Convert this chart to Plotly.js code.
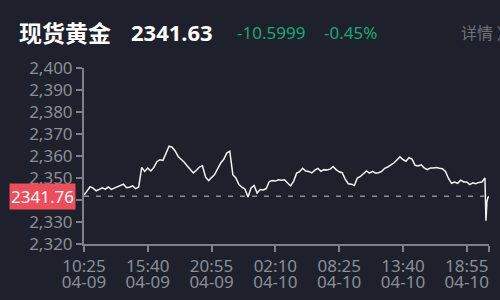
<!DOCTYPE html>
<html>
<head>
<meta charset="utf-8">
<script src="https://cdn.plot.ly/plotly-3.0.1.min.js"></script>
<style>
html,body{margin:0;padding:0;background:#1e212b;}
#chart{width:500px;height:300px;}
</style>
</head>
<body>
<div id="chart"></div>
<script>
// ---- data ----
const times = [
'2024-04-09 10:25','2024-04-09 10:40','2024-04-09 10:55','2024-04-09 11:10','2024-04-09 11:25','2024-04-09 11:40','2024-04-09 11:55',
'2024-04-09 12:10','2024-04-09 12:25','2024-04-09 12:40','2024-04-09 12:55','2024-04-09 13:10','2024-04-09 13:25','2024-04-09 13:40',
'2024-04-09 13:55','2024-04-09 14:10','2024-04-09 14:25','2024-04-09 14:40','2024-04-09 14:55','2024-04-09 15:10','2024-04-09 15:25',
'2024-04-09 15:40','2024-04-09 15:55','2024-04-09 16:10','2024-04-09 16:25','2024-04-09 16:40','2024-04-09 16:55','2024-04-09 17:10',
'2024-04-09 17:25','2024-04-09 17:40','2024-04-09 17:55','2024-04-09 18:10','2024-04-09 18:25','2024-04-09 18:40','2024-04-09 18:55',
'2024-04-09 19:10','2024-04-09 19:25','2024-04-09 19:40','2024-04-09 19:55','2024-04-09 20:10','2024-04-09 20:25','2024-04-09 20:40',
'2024-04-09 20:55','2024-04-09 21:10','2024-04-09 21:25','2024-04-09 21:40','2024-04-09 21:55','2024-04-09 22:10','2024-04-09 22:25',
'2024-04-09 22:40','2024-04-09 22:55','2024-04-09 23:10','2024-04-09 23:25','2024-04-09 23:40','2024-04-09 23:55',
'2024-04-10 00:10','2024-04-10 00:25','2024-04-10 00:40','2024-04-10 00:55','2024-04-10 01:10','2024-04-10 01:25','2024-04-10 01:40',
'2024-04-10 01:55','2024-04-10 02:10','2024-04-10 02:25','2024-04-10 02:40','2024-04-10 02:55','2024-04-10 03:10','2024-04-10 03:25',
'2024-04-10 03:40','2024-04-10 03:55','2024-04-10 04:10','2024-04-10 04:25','2024-04-10 04:40','2024-04-10 04:55',
'2024-04-10 06:10','2024-04-10 06:25','2024-04-10 06:40','2024-04-10 06:55','2024-04-10 07:10','2024-04-10 07:25','2024-04-10 07:40',
'2024-04-10 07:55','2024-04-10 08:10','2024-04-10 08:25','2024-04-10 08:40','2024-04-10 08:55','2024-04-10 09:10','2024-04-10 09:25',
'2024-04-10 09:40','2024-04-10 09:55','2024-04-10 10:10','2024-04-10 10:25','2024-04-10 10:40','2024-04-10 10:55','2024-04-10 11:10',
'2024-04-10 11:25','2024-04-10 11:40','2024-04-10 11:55','2024-04-10 12:10','2024-04-10 12:25','2024-04-10 12:40','2024-04-10 12:55',
'2024-04-10 13:10','2024-04-10 13:25','2024-04-10 13:40','2024-04-10 13:55','2024-04-10 14:10','2024-04-10 14:25','2024-04-10 14:40',
'2024-04-10 14:55','2024-04-10 15:10','2024-04-10 15:25','2024-04-10 15:40','2024-04-10 15:55','2024-04-10 16:10','2024-04-10 16:25',
'2024-04-10 16:40','2024-04-10 16:55','2024-04-10 17:10','2024-04-10 17:25','2024-04-10 17:40','2024-04-10 17:55','2024-04-10 18:10',
'2024-04-10 18:25','2024-04-10 18:40','2024-04-10 18:55','2024-04-10 19:10','2024-04-10 19:25','2024-04-10 19:40','2024-04-10 19:55',
'2024-04-10 20:10','2024-04-10 20:25','2024-04-10 20:30','2024-04-10 20:35','2024-04-10 20:40','2024-04-10 20:45'
];
const prices = [
2342.2,2344.0,2346.0,2345.4,2344.2,2344.8,2345.5,
2344.9,2345.9,2344.8,2345.4,2346.2,2346.8,2347.2,
2345.6,2345.8,2346.4,2345.2,2345.9,2354.8,2353.0,
2354.5,2353.2,2354.8,2357.4,2358.3,2358.0,2361.5,
2364.5,2364.0,2362.3,2359.8,2358.6,2357.2,2355.5,
2354.0,2352.3,2353.5,2355.0,2355.6,2350.5,2348.8,
2350.2,2351.6,2354.2,2356.8,2358.5,2361.3,2362.2,
2351.5,2350.0,2347.0,2345.8,2344.9,2341.4,
2345.5,2346.6,2343.2,2344.8,2344.6,2345.2,2348.4,
2348.8,2348.6,2349.2,2349.0,2349.2,2347.8,2346.4,
2348.5,2352.2,2352.9,2354.4,2353.2,2353.0,
2352.3,2353.6,2354.4,2353.0,2353.8,2353.6,2354.0,
2355.2,2353.8,2352.8,2352.4,2349.5,2347.4,2347.2,
2346.6,2350.0,2350.7,2351.8,2353.2,2352.2,2353.0,
2352.2,2352.4,2353.0,2354.4,2355.0,2355.8,2356.8,
2358.2,2359.6,2358.4,2357.6,2359.2,2358.6,2355.8,
2355.5,2356.0,2354.6,2353.8,2354.5,2354.5,2354.8,
2354.4,2354.2,2353.0,2349.8,2347.6,2348.2,2347.6,
2349.0,2348.2,2348.2,2347.0,2347.8,2347.4,2348.0,
2348.2,2350.0,2330.6,2339.4,2341.2,2341.63
];
const prevClose = 2341.76;
const tickTimes = ['2024-04-09 10:25','2024-04-09 15:40','2024-04-09 20:55','2024-04-10 02:10','2024-04-10 08:25','2024-04-10 13:40','2024-04-10 18:55','2024-04-10 20:45'];
const tickClock = ['10:25','15:40','20:55','02:10','08:25','13:40','18:55',''];
const tickDay = ['04-09','04-09','04-09','04-10','04-10','04-10','04-10',''];
const yTicks = [2320,2330,2340,2350,2360,2370,2380,2390,2400];
const titleName = '现货黄金';
const lastPrice = '2341.63';
const change = '-10.5999';
const changePct = '-0.45%';

// ---- styles ----
const BG = '#1e212b';
const GRAY = '#8b8e98';
const AXIS = '#7d808a';
const GREEN = '#17a77b';
const FONT = 'Noto Sans, Noto Sans CJK SC, sans-serif';
const breaks = [{bounds: [5, 6], pattern: 'hour'}];
const xRange = [times[0], times[times.length - 1]];

const traces = [
  {x: times, y: prices, type: 'scatter', mode: 'lines', xaxis: 'x', yaxis: 'y',
   line: {color: '#f2f2f2', width: 1.5}, hoverinfo: 'skip'},
  {x: times, y: prices, type: 'scatter', mode: 'lines', xaxis: 'x2', yaxis: 'y',
   line: {color: 'rgba(0,0,0,0)', width: 0}, hoverinfo: 'skip', showlegend: false}
];

const axCommon = {
  type: 'date', range: xRange, rangebreaks: breaks,
  tickmode: 'array', tickvals: tickTimes, showgrid: false, zeroline: false,
  tickfont: {family: FONT, size: 17, color: GRAY}, fixedrange: true
};

const layout = {
  width: 500, height: 300,
  paper_bgcolor: BG, plot_bgcolor: BG,
  margin: {l: 84, r: 11, t: 68, b: 56},
  showlegend: false,
  xaxis: Object.assign({}, axCommon, {
    ticktext: tickClock, ticks: 'outside', ticklen: 6, tickwidth: 2, tickcolor: AXIS,
    showline: true, linecolor: AXIS, linewidth: 2, ticklabelstandoff: 0
  }),
  xaxis2: Object.assign({}, axCommon, {
    ticktext: tickDay, overlaying: 'x', anchor: 'y', side: 'bottom',
    ticks: 'outside', ticklen: 6, tickcolor: 'rgba(0,0,0,0)', showline: false, ticklabelstandoff: 17
  }),
  yaxis: {
    range: [2320, 2400], tickmode: 'array', tickvals: yTicks, tickformat: ',d',
    showgrid: false, zeroline: false, showline: true, linecolor: AXIS, linewidth: 2,
    ticks: 'outside', ticklen: 6, tickwidth: 2, tickcolor: AXIS,
    tickfont: {family: FONT, size: 17, color: GRAY}, fixedrange: true
  },
  shapes: [{
    type: 'line', xref: 'paper', x0: 0, x1: 1, yref: 'y', y0: prevClose, y1: prevClose,
    line: {color: GRAY, width: 1.5, dash: '5px,7px'}
  }],
  annotations: [
    {xref: 'paper', yref: 'y', x: 0, y: prevClose, xanchor: 'right', yanchor: 'middle', xshift: -8,
     text: prevClose.toFixed(2), showarrow: false, bgcolor: '#ee4e5a', borderpad: 1,
     font: {family: FONT, size: 17, color: '#ffffff'}},
    {xref: 'paper', yref: 'paper', x: 0, y: 1, xanchor: 'left', yanchor: 'middle', xshift: -67, yshift: 36,
     text: '<b>' + titleName + '</b>', showarrow: false,
     font: {family: 'Noto Sans CJK SC, sans-serif', size: 23, color: '#ffffff'}},
    {xref: 'paper', yref: 'paper', x: 0, y: 1, xanchor: 'left', yanchor: 'middle', xshift: 45, yshift: 36,
     text: '<b>' + lastPrice + '</b>', showarrow: false,
     font: {family: FONT, size: 22, color: '#ffffff'}},
    {xref: 'paper', yref: 'paper', x: 0, y: 1, xanchor: 'left', yanchor: 'middle', xshift: 151, yshift: 36,
     text: change, showarrow: false,
     font: {family: FONT, size: 17, color: GREEN}},
    {xref: 'paper', yref: 'paper', x: 0, y: 1, xanchor: 'left', yanchor: 'middle', xshift: 238, yshift: 36,
     text: changePct, showarrow: false,
     font: {family: FONT, size: 17, color: GREEN}},
    {xref: 'paper', yref: 'paper', x: 0, y: 1, xanchor: 'left', yanchor: 'middle', xshift: 375, yshift: 36,
     text: '详情 〉', showarrow: false,
     font: {family: 'Noto Sans CJK SC, sans-serif', size: 16, color: '#6e717b'}}
  ]
};

Plotly.newPlot('chart', traces, layout, {displayModeBar: false, staticPlot: true});
</script>
</body>
</html>
